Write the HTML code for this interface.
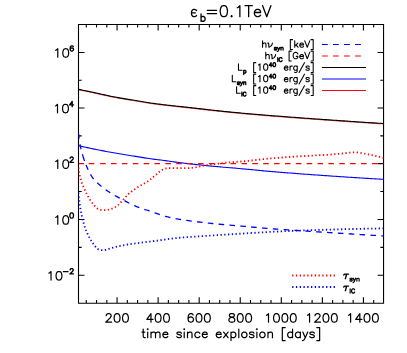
<!DOCTYPE html>
<html><head><meta charset="utf-8"><title>plot</title>
<style>html,body{margin:0;padding:0;background:#fff;font-family:"Liberation Sans",sans-serif;}body{width:407px;height:353px;overflow:hidden}</style></head>
<body>
<svg width="407" height="353" viewBox="0 0 407 353" style="display:block">
<defs><clipPath id="clip"><rect x="78.5" y="24.5" width="305.05" height="278.7"/></clipPath></defs>
<rect x="0" y="0" width="407" height="353" fill="#fff"/>
<path d="M78.5 24.5H383.55V303.2H78.5ZM86.27 303.2v-3.1M86.27 24.5v3.1M96.53 303.2v-3.1M96.53 24.5v3.1M106.8 303.2v-3.1M106.8 24.5v3.1M117.06 303.2v-6M117.06 24.5v6M127.33 303.2v-3.1M127.33 24.5v3.1M137.59 303.2v-3.1M137.59 24.5v3.1M147.86 303.2v-3.1M147.86 24.5v3.1M158.12 303.2v-6M158.12 24.5v6M168.38 303.2v-3.1M168.38 24.5v3.1M178.65 303.2v-3.1M178.65 24.5v3.1M188.92 303.2v-3.1M188.92 24.5v3.1M199.18 303.2v-6M199.18 24.5v6M209.44 303.2v-3.1M209.44 24.5v3.1M219.71 303.2v-3.1M219.71 24.5v3.1M229.97 303.2v-3.1M229.97 24.5v3.1M240.24 303.2v-6M240.24 24.5v6M250.5 303.2v-3.1M250.5 24.5v3.1M260.77 303.2v-3.1M260.77 24.5v3.1M271.03 303.2v-3.1M271.03 24.5v3.1M281.3 303.2v-6M281.3 24.5v6M291.56 303.2v-3.1M291.56 24.5v3.1M301.83 303.2v-3.1M301.83 24.5v3.1M312.1 303.2v-3.1M312.1 24.5v3.1M322.36 303.2v-6M322.36 24.5v6M332.62 303.2v-3.1M332.62 24.5v3.1M342.89 303.2v-3.1M342.89 24.5v3.1M353.16 303.2v-3.1M353.16 24.5v3.1M363.42 303.2v-6M363.42 24.5v6M373.69 303.2v-3.1M373.69 24.5v3.1M78.5 275.29h6M383.55 275.29h-6M78.5 247.38h3.2M383.55 247.38h-3.2M78.5 219.47h6M383.55 219.47h-6M78.5 191.56h3.2M383.55 191.56h-3.2M383.55 163.65h-6M78.5 135.85h3.2M383.55 135.85h-3.2M78.5 108.05h6M383.55 108.05h-6M78.5 80.25h3.2M383.55 80.25h-3.2M78.5 52.45h6M383.55 52.45h-6" fill="none" stroke="#000" stroke-width="1.1" stroke-linecap="butt" stroke-linejoin="miter"/>
<g fill="none" stroke-width="1.12" clip-path="url(#clip)">
<path d="M78.4 89.3L79.87 89.6L81.33 89.9L82.8 90.2L84.26 90.5L85.73 90.81L87.19 91.11L88.66 91.42L90.12 91.73L91.59 92.03L93.05 92.34L94.52 92.65L95.98 92.97L97.44 93.29L98.9 93.61L100.36 93.94L101.82 94.27L103.28 94.6L104.74 94.92L106.21 95.24L107.67 95.56L109.13 95.88L110.59 96.18L112.06 96.48L113.53 96.77L115 97.05L116.47 97.32L117.94 97.58L119.41 97.84L120.89 98.1L122.36 98.35L123.84 98.6L125.32 98.85L126.79 99.09L128.27 99.34L129.75 99.58L131.22 99.82L132.7 100.07L134.18 100.31L135.65 100.56L137.13 100.81L138.6 101.06L140.08 101.31L141.55 101.56L143.03 101.81L144.51 102.05L145.99 102.29L147.46 102.52L148.94 102.75L150.42 102.98L151.9 103.19L153.38 103.4L154.86 103.6L156.35 103.79L157.83 103.98L159.31 104.17L160.8 104.35L162.28 104.53L163.77 104.71L165.26 104.88L166.74 105.05L168.23 105.22L169.72 105.39L171.2 105.55L172.69 105.72L174.18 105.88L175.67 106.04L177.16 106.2L178.65 106.36L180.13 106.52L181.62 106.68L183.11 106.84L184.6 107L186.09 107.17L187.57 107.33L189.06 107.49L190.55 107.66L192.03 107.83L193.52 108L195.01 108.17L196.5 108.34L197.98 108.51L199.47 108.68L200.96 108.85L202.44 109.01L203.93 109.18L205.42 109.35L206.9 109.52L208.39 109.69L209.88 109.86L211.36 110.03L212.85 110.19L214.34 110.36L215.83 110.52L217.31 110.68L218.8 110.84L220.29 111L221.78 111.16L223.27 111.32L224.75 111.47L226.24 111.62L227.73 111.78L229.22 111.92L230.71 112.07L232.2 112.21L233.69 112.36L235.18 112.5L236.67 112.64L238.16 112.78L239.65 112.91L241.14 113.05L242.63 113.19L244.12 113.32L245.61 113.45L247.1 113.59L248.59 113.72L250.08 113.85L251.57 113.97L253.06 114.1L254.55 114.23L256.04 114.36L257.54 114.48L259.03 114.61L260.52 114.73L262.01 114.85L263.5 114.98L264.99 115.1L266.48 115.22L267.98 115.34L269.47 115.46L270.96 115.58L272.45 115.7L273.94 115.82L275.43 115.94L276.92 116.05L278.42 116.17L279.91 116.29L281.4 116.4L282.89 116.52L284.38 116.63L285.88 116.75L287.37 116.86L288.86 116.97L290.35 117.08L291.85 117.2L293.34 117.31L294.83 117.42L296.32 117.53L297.81 117.64L299.31 117.75L300.8 117.86L302.29 117.97L303.78 118.08L305.28 118.19L306.77 118.29L308.26 118.4L309.75 118.51L311.25 118.62L312.74 118.73L314.23 118.83L315.72 118.94L317.22 119.05L318.71 119.15L320.2 119.26L321.69 119.37L323.19 119.47L324.68 119.58L326.17 119.68L327.67 119.79L329.16 119.89L330.65 120L332.14 120.1L333.64 120.21L335.13 120.31L336.62 120.42L338.11 120.52L339.61 120.62L341.1 120.73L342.59 120.83L344.09 120.93L345.58 121.04L347.07 121.14L348.56 121.24L350.06 121.34L351.55 121.44L353.04 121.54L354.54 121.64L356.03 121.74L357.52 121.84L359.02 121.94L360.51 122.04L362 122.14L363.49 122.24L364.99 122.34L366.48 122.44L367.97 122.54L369.47 122.64L370.96 122.73L372.45 122.83L373.95 122.93L375.44 123.03L376.93 123.12L378.43 123.22L379.92 123.31L381.41 123.41L382.91 123.5L384.4 123.6" stroke="#ff0000" opacity="0.7" transform="translate(0,0.4)"/>
<path d="M78.4 89.3L79.87 89.6L81.33 89.9L82.8 90.2L84.26 90.5L85.73 90.81L87.19 91.11L88.66 91.42L90.12 91.73L91.59 92.03L93.05 92.34L94.52 92.65L95.98 92.97L97.44 93.29L98.9 93.61L100.36 93.94L101.82 94.27L103.28 94.6L104.74 94.92L106.21 95.24L107.67 95.56L109.13 95.88L110.59 96.18L112.06 96.48L113.53 96.77L115 97.05L116.47 97.32L117.94 97.58L119.41 97.84L120.89 98.1L122.36 98.35L123.84 98.6L125.32 98.85L126.79 99.09L128.27 99.34L129.75 99.58L131.22 99.82L132.7 100.07L134.18 100.31L135.65 100.56L137.13 100.81L138.6 101.06L140.08 101.31L141.55 101.56L143.03 101.81L144.51 102.05L145.99 102.29L147.46 102.52L148.94 102.75L150.42 102.98L151.9 103.19L153.38 103.4L154.86 103.6L156.35 103.79L157.83 103.98L159.31 104.17L160.8 104.35L162.28 104.53L163.77 104.71L165.26 104.88L166.74 105.05L168.23 105.22L169.72 105.39L171.2 105.55L172.69 105.72L174.18 105.88L175.67 106.04L177.16 106.2L178.65 106.36L180.13 106.52L181.62 106.68L183.11 106.84L184.6 107L186.09 107.17L187.57 107.33L189.06 107.49L190.55 107.66L192.03 107.83L193.52 108L195.01 108.17L196.5 108.34L197.98 108.51L199.47 108.68L200.96 108.85L202.44 109.01L203.93 109.18L205.42 109.35L206.9 109.52L208.39 109.69L209.88 109.86L211.36 110.03L212.85 110.19L214.34 110.36L215.83 110.52L217.31 110.68L218.8 110.84L220.29 111L221.78 111.16L223.27 111.32L224.75 111.47L226.24 111.62L227.73 111.78L229.22 111.92L230.71 112.07L232.2 112.21L233.69 112.36L235.18 112.5L236.67 112.64L238.16 112.78L239.65 112.91L241.14 113.05L242.63 113.19L244.12 113.32L245.61 113.45L247.1 113.59L248.59 113.72L250.08 113.85L251.57 113.97L253.06 114.1L254.55 114.23L256.04 114.36L257.54 114.48L259.03 114.61L260.52 114.73L262.01 114.85L263.5 114.98L264.99 115.1L266.48 115.22L267.98 115.34L269.47 115.46L270.96 115.58L272.45 115.7L273.94 115.82L275.43 115.94L276.92 116.05L278.42 116.17L279.91 116.29L281.4 116.4L282.89 116.52L284.38 116.63L285.88 116.75L287.37 116.86L288.86 116.97L290.35 117.08L291.85 117.2L293.34 117.31L294.83 117.42L296.32 117.53L297.81 117.64L299.31 117.75L300.8 117.86L302.29 117.97L303.78 118.08L305.28 118.19L306.77 118.29L308.26 118.4L309.75 118.51L311.25 118.62L312.74 118.73L314.23 118.83L315.72 118.94L317.22 119.05L318.71 119.15L320.2 119.26L321.69 119.37L323.19 119.47L324.68 119.58L326.17 119.68L327.67 119.79L329.16 119.89L330.65 120L332.14 120.1L333.64 120.21L335.13 120.31L336.62 120.42L338.11 120.52L339.61 120.62L341.1 120.73L342.59 120.83L344.09 120.93L345.58 121.04L347.07 121.14L348.56 121.24L350.06 121.34L351.55 121.44L353.04 121.54L354.54 121.64L356.03 121.74L357.52 121.84L359.02 121.94L360.51 122.04L362 122.14L363.49 122.24L364.99 122.34L366.48 122.44L367.97 122.54L369.47 122.64L370.96 122.73L372.45 122.83L373.95 122.93L375.44 123.03L376.93 123.12L378.43 123.22L379.92 123.31L381.41 123.41L382.91 123.5L384.4 123.6" stroke="#000"/>
<path d="M78.4 145.6L79.86 145.94L81.32 146.28L82.77 146.61L84.23 146.94L85.69 147.26L87.15 147.59L88.62 147.91L90.08 148.22L91.54 148.53L93.01 148.84L94.47 149.14L95.94 149.44L97.4 149.73L98.87 150.02L100.34 150.31L101.81 150.6L103.28 150.88L104.75 151.16L106.22 151.44L107.69 151.71L109.16 151.98L110.63 152.25L112.1 152.52L113.58 152.78L115.05 153.04L116.52 153.29L118 153.54L119.47 153.79L120.95 154.03L122.43 154.28L123.9 154.52L125.38 154.75L126.86 154.99L128.33 155.23L129.81 155.46L131.29 155.7L132.77 155.93L134.24 156.17L135.72 156.41L137.2 156.65L138.67 156.89L140.15 157.13L141.63 157.37L143.1 157.61L144.58 157.84L146.06 158.08L147.54 158.3L149.02 158.53L150.5 158.74L151.98 158.95L153.46 159.16L154.94 159.35L156.43 159.53L157.91 159.71L159.4 159.88L160.89 160.06L162.37 160.25L163.85 160.44L165.34 160.64L166.82 160.85L168.3 161.06L169.78 161.27L171.26 161.48L172.74 161.69L174.22 161.9L175.71 162.11L177.19 162.31L178.67 162.51L180.15 162.7L181.64 162.88L183.12 163.06L184.61 163.24L186.09 163.41L187.58 163.58L189.07 163.76L190.55 163.93L192.04 164.09L193.53 164.26L195.01 164.42L196.5 164.59L197.99 164.75L199.48 164.9L200.96 165.06L202.45 165.22L203.94 165.37L205.43 165.52L206.92 165.67L208.41 165.82L209.9 165.97L211.38 166.11L212.87 166.25L214.36 166.4L215.85 166.53L217.34 166.67L218.83 166.8L220.32 166.93L221.81 167.06L223.3 167.19L224.79 167.31L226.28 167.44L227.78 167.56L229.27 167.69L230.76 167.81L232.25 167.93L233.74 168.06L235.23 168.18L236.72 168.31L238.21 168.44L239.7 168.56L241.19 168.69L242.68 168.83L244.17 168.96L245.66 169.1L247.15 169.24L248.64 169.38L250.13 169.52L251.62 169.67L253.11 169.81L254.6 169.96L256.09 170.1L257.58 170.25L259.06 170.39L260.55 170.53L262.04 170.68L263.53 170.82L265.02 170.96L266.51 171.09L268 171.23L269.49 171.36L270.98 171.48L272.47 171.61L273.96 171.74L275.45 171.86L276.94 171.98L278.44 172.11L279.93 172.23L281.42 172.35L282.91 172.47L284.4 172.59L285.89 172.71L287.38 172.83L288.87 172.94L290.37 173.06L291.86 173.18L293.35 173.29L294.84 173.41L296.33 173.52L297.82 173.63L299.32 173.75L300.81 173.86L302.3 173.97L303.79 174.08L305.28 174.19L306.78 174.3L308.27 174.41L309.76 174.52L311.25 174.63L312.74 174.73L314.24 174.84L315.73 174.95L317.22 175.05L318.71 175.16L320.21 175.26L321.7 175.37L323.19 175.47L324.68 175.58L326.17 175.68L327.67 175.79L329.16 175.89L330.65 175.99L332.14 176.09L333.64 176.2L335.13 176.3L336.62 176.4L338.11 176.5L339.61 176.6L341.1 176.7L342.59 176.8L344.08 176.9L345.58 177L347.07 177.09L348.56 177.19L350.06 177.29L351.55 177.39L353.04 177.48L354.53 177.58L356.03 177.68L357.52 177.77L359.01 177.86L360.51 177.96L362 178.05L363.49 178.15L364.99 178.24L366.48 178.33L367.97 178.42L369.47 178.51L370.96 178.61L372.45 178.7L373.95 178.79L375.44 178.87L376.93 178.96L378.43 179.05L379.92 179.14L381.41 179.23L382.91 179.31L384.4 179.4" stroke="#0000ff"/>
<path d="M78.4 132.8L78.56 134.29L78.73 135.78L78.92 137.27L79.12 138.76L79.34 140.24L79.56 141.72L79.81 143.21L80.08 144.68L80.36 146.15L80.68 147.62L81.02 149.08L81.37 150.54L81.76 151.99L82.16 153.45L82.58 154.89L83.02 156.34L83.47 157.77L83.95 159.19L84.44 160.61L84.94 162.01L85.47 163.4L86.01 164.8L86.58 166.2L87.17 167.6L87.79 168.99L88.43 170.37L89.1 171.74L89.8 173.08L90.53 174.4L91.29 175.7L92.08 176.95L92.89 178.17L93.77 179.34L94.76 180.46L95.83 181.54L96.94 182.58L98.04 183.58L99.17 184.56L100.31 185.53L101.48 186.48L102.66 187.41L103.86 188.33L105.08 189.22L106.3 190.1L107.54 190.95L108.78 191.79L110.02 192.61L111.29 193.41L112.56 194.18L113.86 194.94L115.16 195.69L116.47 196.42L117.8 197.13L119.12 197.84L120.45 198.55L121.78 199.25L123.11 199.94L124.44 200.64L125.77 201.35L127.1 202.05L128.43 202.74L129.77 203.43L131.11 204.1L132.46 204.75L133.82 205.38L135.19 205.97L136.57 206.53L137.97 207.07L139.37 207.59L140.79 208.09L142.21 208.58L143.63 209.06L145.06 209.53L146.49 210L147.92 210.47L149.34 210.94L150.76 211.42L152.18 211.92L153.59 212.43L155.01 212.94L156.42 213.46L157.84 213.97L159.26 214.46L160.68 214.95L162.1 215.4L163.53 215.84L164.97 216.24L166.42 216.6L167.87 216.95L169.33 217.29L170.8 217.61L172.27 217.92L173.74 218.21L175.22 218.5L176.7 218.77L178.18 219.03L179.66 219.28L181.14 219.52L182.62 219.76L184.1 219.98L185.58 220.21L187.06 220.42L188.54 220.64L190.03 220.84L191.52 221.05L193 221.25L194.49 221.44L195.98 221.63L197.47 221.82L198.96 222L200.45 222.18L201.94 222.35L203.43 222.53L204.92 222.7L206.42 222.86L207.91 223.03L209.4 223.19L210.89 223.35L212.38 223.51L213.87 223.66L215.36 223.81L216.86 223.96L218.35 224.11L219.84 224.25L221.33 224.39L222.83 224.52L224.32 224.65L225.82 224.79L227.31 224.92L228.8 225.04L230.3 225.17L231.79 225.3L233.29 225.43L234.78 225.55L236.28 225.68L237.77 225.81L239.27 225.93L240.76 226.06L242.26 226.19L243.75 226.32L245.25 226.45L246.74 226.59L248.23 226.72L249.73 226.86L251.22 226.99L252.71 227.13L254.21 227.26L255.7 227.39L257.2 227.53L258.69 227.66L260.19 227.79L261.68 227.92L263.17 228.05L264.67 228.17L266.16 228.3L267.66 228.42L269.15 228.53L270.65 228.65L272.14 228.76L273.64 228.88L275.13 228.99L276.63 229.09L278.13 229.2L279.62 229.31L281.12 229.41L282.62 229.52L284.11 229.62L285.61 229.72L287.1 229.82L288.6 229.92L290.1 230.02L291.59 230.12L293.09 230.22L294.59 230.32L296.08 230.42L297.58 230.51L299.08 230.61L300.57 230.71L302.07 230.81L303.57 230.91L305.06 231L306.56 231.1L308.06 231.2L309.55 231.3L311.05 231.4L312.55 231.5L314.04 231.59L315.54 231.69L317.04 231.79L318.53 231.89L320.03 231.99L321.53 232.08L323.02 232.18L324.52 232.28L326.02 232.37L327.51 232.47L329.01 232.57L330.51 232.66L332 232.76L333.5 232.86L335 232.95L336.5 233.05L337.99 233.14L339.49 233.24L340.99 233.33L342.48 233.43L343.98 233.52L345.48 233.62L346.97 233.71L348.47 233.81L349.97 233.9L351.46 233.99L352.96 234.09L354.46 234.18L355.95 234.27L357.45 234.37L358.95 234.46L360.45 234.55L361.94 234.64L363.44 234.74L364.94 234.83L366.43 234.92L367.93 235.01L369.43 235.1L370.93 235.19L372.42 235.28L373.92 235.37L375.42 235.46L376.91 235.55L378.41 235.64L379.91 235.73L381.41 235.82L382.9 235.91L384.4 236" stroke="#0000ff" stroke-width="1.3" stroke-dasharray="5.8 5.9 5 5.2 7 4.2 5.3 5.2 5.55 5.32 5.55 5.32 5.55 5.32 5.55 5.32 5.55 5.32 5.55 5.32 5.55 5.32 5.55 5.32 5.55 5.32 5.55 5.32 5.55 5.32 5.55 5.32 5.55 5.32 5.55 5.32 5.55 5.32 5.55 5.32 5.55 5.32 5.55 5.32 5.55 5.32 5.55 5.32 5.55 5.32 5.55 5.32 5.55 5.32 5.55 5.32 5.55 5.32 5.55 5.32 5.55 5.32 5.55 5.32 5.55 5.32 5.55 5.32 5.55 5.32 5.55 5.32 5.55 5.32 5.55 5.32"/>
<path d="M78.5 163.65 L383.55 163.65" stroke="#ff0000" stroke-width="1.3" stroke-dasharray="5.6 4.6 5.6 5.85 5.55 5.32 5.55 5.32 5.55 5.32 5.55 5.32 5.55 5.32 5.55 5.32 5.55 5.32 5.55 5.32 5.55 5.32 5.55 5.32 5.55 5.32 5.55 5.32 5.55 5.32 5.55 5.32 5.55 5.32 5.55 5.32 5.55 5.32 5.55 5.32 5.55 5.32 5.55 5.32 5.55 5.32 5.55 5.32 5.55 5.32 5.55 5.32 5.55 5.32 5.55 5.32 5.55 5.32 5.55 5.32 5.55 5.32 5.55 5.32"/>
<path d="M78.4 167.7L78.58 169.2L78.8 170.7L79.06 172.18L79.35 173.66L79.67 175.13L80.01 176.58L80.38 178.03L80.76 179.47L81.16 180.9L81.63 182.32L82.16 183.73L82.72 185.13L83.31 186.52L83.9 187.89L84.5 189.27L85.12 190.64L85.76 192L86.42 193.35L87.11 194.69L87.82 196.01L88.55 197.31L89.32 198.59L90.12 199.86L90.97 201.11L91.85 202.33L92.76 203.53L93.7 204.69L94.67 205.88L95.69 207.1L96.77 208.16L97.96 208.87L99.3 209.37L100.78 209.79L102.32 210.09L103.83 210.2L105.32 210.13L106.82 209.94L108.31 209.68L109.77 209.39L111.2 208.98L112.62 208.42L114 207.76L115.31 207.03L116.54 206.25L117.72 205.35L118.85 204.34L119.94 203.27L121.01 202.19L122.06 201.12L123.06 200L124.06 198.88L125.04 197.73L126.02 196.59L127.02 195.48L128.08 194.44L129.2 193.45L130.36 192.51L131.56 191.59L132.78 190.7L134 189.82L135.23 188.96L136.47 188.13L137.74 187.32L139.01 186.53L140.29 185.74L141.57 184.96L142.86 184.19L144.17 183.45L145.48 182.71L146.77 181.95L148.03 181.15L149.25 180.29L150.45 179.39L151.62 178.45L152.77 177.49L153.93 176.53L155.09 175.57L156.24 174.6L157.37 173.57L158.5 172.53L159.65 171.54L160.83 170.64L162.08 169.91L163.44 169.28L164.87 168.76L166.33 168.45L167.81 168.24L169.32 168.12L170.81 168.11L172.31 168.14L173.81 168.19L175.31 168.2L176.81 168.2L178.32 168.2L179.82 168.2L181.32 168.2L182.82 168.2L184.32 168.2L185.82 168.2L187.31 168.2L188.81 168.16L190.3 168.03L191.79 167.85L193.28 167.63L194.77 167.39L196.25 167.16L197.72 166.88L199.18 166.54L200.64 166.19L202.11 165.87L203.58 165.6L205.06 165.37L206.55 165.15L208.03 164.95L209.52 164.76L211.01 164.57L212.5 164.37L213.99 164.18L215.47 163.98L216.96 163.79L218.45 163.6L219.94 163.41L221.43 163.22L222.91 163.04L224.4 162.87L225.9 162.71L227.39 162.56L228.88 162.42L230.37 162.29L231.87 162.17L233.36 162.06L234.86 161.95L236.36 161.85L237.85 161.74L239.35 161.63L240.84 161.52L242.34 161.4L243.83 161.27L245.33 161.13L246.82 160.99L248.31 160.83L249.8 160.68L251.29 160.51L252.78 160.35L254.27 160.18L255.76 160.01L257.25 159.84L258.75 159.67L260.24 159.5L261.73 159.33L263.22 159.17L264.71 159.01L266.2 158.86L267.69 158.71L269.19 158.57L270.68 158.44L272.17 158.31L273.67 158.19L275.16 158.07L276.66 157.95L278.15 157.83L279.65 157.71L281.14 157.6L282.64 157.48L284.13 157.37L285.63 157.26L287.13 157.16L288.62 157.05L290.12 156.94L291.61 156.84L293.11 156.74L294.61 156.64L296.1 156.54L297.6 156.44L299.1 156.35L300.6 156.25L302.09 156.16L303.59 156.07L305.09 155.98L306.58 155.89L308.08 155.81L309.58 155.73L311.08 155.65L312.57 155.58L314.07 155.51L315.57 155.44L317.07 155.37L318.57 155.29L320.07 155.22L321.56 155.14L323.06 155.06L324.56 154.98L326.06 154.89L327.55 154.8L329.05 154.7L330.54 154.59L332.04 154.46L333.53 154.33L335.02 154.19L336.52 154.04L338.01 153.9L339.5 153.74L340.99 153.59L342.49 153.44L343.98 153.3L345.47 153.15L346.97 152.99L348.46 152.81L349.96 152.63L351.45 152.47L352.94 152.36L354.43 152.3L355.92 152.32L357.41 152.43L358.9 152.6L360.38 152.82L361.87 153.08L363.35 153.37L364.83 153.67L366.31 153.97L367.78 154.26L369.25 154.53L370.72 154.82L372.19 155.13L373.66 155.44L375.12 155.77L376.58 156.11L378.04 156.47L379.49 156.83L380.95 157.21L382.4 157.6L383.85 158" stroke="#ff0000" stroke-dasharray="1.3 2.47" stroke-width="1.8"/>
<path d="M78.4 192.9L78.54 194.39L78.7 195.88L78.87 197.37L79.05 198.86L79.24 200.34L79.43 201.82L79.64 203.31L79.85 204.79L80.07 206.26L80.3 207.74L80.54 209.22L80.8 210.7L81.07 212.17L81.36 213.64L81.66 215.11L81.97 216.57L82.3 218.02L82.65 219.48L83.01 220.94L83.4 222.39L83.81 223.84L84.24 225.27L84.69 226.69L85.17 228.1L85.69 229.5L86.24 230.89L86.83 232.28L87.45 233.65L88.09 235.01L88.76 236.35L89.45 237.68L90.17 238.98L90.92 240.26L91.73 241.53L92.57 242.77L93.44 244L94.34 245.2L95.25 246.41L96.18 247.69L97.21 248.72L98.46 249.36L99.92 249.87L101.43 250.1L102.93 250.08L104.43 250.03L105.9 249.88L107.33 249.45L108.75 248.91L110.19 248.46L111.63 248.05L113.07 247.64L114.51 247.24L115.96 246.86L117.41 246.5L118.87 246.17L120.33 245.85L121.8 245.54L123.26 245.26L124.74 245L126.21 244.75L127.69 244.51L129.17 244.28L130.65 244.06L132.13 243.85L133.61 243.64L135.1 243.43L136.58 243.23L138.06 243.02L139.54 242.82L141.03 242.63L142.51 242.44L144 242.26L145.48 242.07L146.97 241.89L148.45 241.71L149.94 241.53L151.42 241.35L152.91 241.16L154.39 240.97L155.88 240.78L157.36 240.58L158.85 240.38L160.33 240.17L161.81 239.97L163.3 239.76L164.78 239.55L166.26 239.35L167.75 239.14L169.23 238.94L170.71 238.75L172.2 238.56L173.68 238.38L175.17 238.2L176.65 238.03L178.14 237.87L179.63 237.73L181.12 237.59L182.61 237.46L184.1 237.34L185.59 237.22L187.08 237.11L188.57 237L190.06 236.89L191.56 236.79L193.05 236.69L194.54 236.59L196.04 236.5L197.53 236.41L199.03 236.32L200.52 236.22L202.01 236.13L203.51 236.05L205 235.96L206.5 235.86L207.99 235.77L209.49 235.68L210.98 235.59L212.47 235.49L213.97 235.39L215.46 235.29L216.95 235.2L218.45 235.1L219.94 235L221.43 234.9L222.93 234.81L224.42 234.71L225.91 234.61L227.41 234.52L228.9 234.42L230.39 234.33L231.89 234.23L233.38 234.14L234.87 234.04L236.37 233.95L237.86 233.85L239.35 233.76L240.85 233.67L242.34 233.57L243.84 233.48L245.33 233.39L246.82 233.29L248.32 233.2L249.81 233.1L251.3 233.01L252.8 232.91L254.29 232.82L255.78 232.72L257.28 232.63L258.77 232.54L260.26 232.45L261.76 232.36L263.25 232.27L264.75 232.18L266.24 232.1L267.73 232.02L269.23 231.94L270.72 231.86L272.22 231.79L273.71 231.71L275.21 231.64L276.7 231.57L278.2 231.5L279.69 231.43L281.19 231.36L282.68 231.29L284.18 231.22L285.67 231.15L287.17 231.09L288.66 231.02L290.16 230.96L291.65 230.9L293.15 230.84L294.64 230.78L296.14 230.72L297.63 230.66L299.13 230.6L300.62 230.55L302.12 230.5L303.62 230.45L305.11 230.4L306.61 230.35L308.1 230.3L309.6 230.25L311.09 230.2L312.59 230.15L314.08 230.11L315.58 230.06L317.08 230.01L318.57 229.96L320.07 229.92L321.56 229.87L323.06 229.82L324.55 229.78L326.05 229.73L327.55 229.69L329.04 229.64L330.54 229.6L332.03 229.55L333.53 229.51L335.02 229.47L336.52 229.43L338.02 229.38L339.51 229.34L341.01 229.3L342.5 229.26L344 229.22L345.5 229.18L346.99 229.14L348.49 229.1L349.98 229.07L351.48 229.03L352.98 228.99L354.47 228.96L355.97 228.92L357.46 228.89L358.96 228.85L360.46 228.82L361.95 228.79L363.45 228.76L364.95 228.73L366.44 228.7L367.94 228.67L369.43 228.64L370.93 228.61L372.43 228.58L373.92 228.56L375.42 228.53L376.92 228.51L378.41 228.48L379.91 228.46L381.41 228.44L382.9 228.42L384.4 228.4" stroke="#0000ff" stroke-dasharray="1.3 2.47" stroke-width="1.8"/>
</g>
<path d="M111.6 322.2L105.75 322.2L109.93 318.15L110.76 316.94L111.18 316.12L111.18 315.31L110.76 314.5L110.35 314.1L109.51 313.69L107.84 313.69L107 314.1L106.58 314.5L106.17 315.31L106.17 315.72M114.55 315.31L114.13 317.34L114.13 318.56L114.55 320.58L115.39 321.8L116.64 322.2L117.48 322.2L118.73 321.8L119.57 320.58L119.99 318.56L119.99 317.34L119.57 315.31L118.73 314.1L117.48 313.69L116.64 313.69L115.39 314.1L114.55 315.31M122.94 315.31L122.52 317.34L122.52 318.56L122.94 320.58L123.77 321.8L125.03 322.2L125.86 322.2L127.12 321.8L127.95 320.58L128.37 318.56L128.37 317.34L127.95 315.31L127.12 314.1L125.86 313.69L125.03 313.69L123.77 314.1L122.94 315.31" fill="none" stroke="#000" stroke-width="1.2" stroke-linecap="round" stroke-linejoin="round"/>
<path d="M150.99 322.2L150.99 313.69L146.81 319.37L153.08 319.37M155.61 315.31L155.19 317.34L155.19 318.56L155.61 320.58L156.45 321.8L157.7 322.2L158.54 322.2L159.79 321.8L160.63 320.58L161.05 318.56L161.05 317.34L160.63 315.31L159.79 314.1L158.54 313.69L157.7 313.69L156.45 314.1L155.61 315.31M164 315.31L163.58 317.34L163.58 318.56L164 320.58L164.83 321.8L166.09 322.2L166.92 322.2L168.18 321.8L169.01 320.58L169.43 318.56L169.43 317.34L169.01 315.31L168.18 314.1L166.92 313.69L166.09 313.69L164.83 314.1L164 315.31" fill="none" stroke="#000" stroke-width="1.2" stroke-linecap="round" stroke-linejoin="round"/>
<path d="M193.09 314.91L192.67 314.1L191.42 313.69L190.58 313.69L189.33 314.1L188.49 315.31L188.08 317.34L188.08 319.37L188.49 320.99L189.33 321.8L190.58 322.2L191 322.2L192.26 321.8L193.09 320.99L193.51 319.77L193.51 319.37L193.09 318.15L192.26 317.34L191 316.94L190.58 316.94L189.33 317.34L188.49 318.15L188.08 319.37M196.46 315.31L196.05 317.34L196.05 318.56L196.46 320.58L197.3 321.8L198.55 322.2L199.39 322.2L200.64 321.8L201.48 320.58L201.9 318.56L201.9 317.34L201.48 315.31L200.64 314.1L199.39 313.69L198.55 313.69L197.3 314.1L196.46 315.31M204.85 315.31L204.43 317.34L204.43 318.56L204.85 320.58L205.69 321.8L206.94 322.2L207.78 322.2L209.03 321.8L209.87 320.58L210.28 318.56L210.28 317.34L209.87 315.31L209.03 314.1L207.78 313.69L206.94 313.69L205.69 314.1L204.85 315.31" fill="none" stroke="#000" stroke-width="1.2" stroke-linecap="round" stroke-linejoin="round"/>
<path d="M230.6 316.94L232.27 317.34L233.53 317.75L234.36 318.56L234.78 319.37L234.78 320.58L234.36 321.39L233.94 321.8L232.69 322.2L231.02 322.2L229.76 321.8L229.35 321.39L228.93 320.58L228.93 319.37L229.35 318.56L230.18 317.75L231.44 317.34L233.11 316.94L233.94 316.53L234.36 315.72L234.36 314.91L233.94 314.1L232.69 313.69L231.02 313.69L229.76 314.1L229.35 314.91L229.35 315.72L229.76 316.53L230.6 316.94M237.73 315.31L237.31 317.34L237.31 318.56L237.73 320.58L238.57 321.8L239.82 322.2L240.66 322.2L241.91 321.8L242.75 320.58L243.17 318.56L243.17 317.34L242.75 315.31L241.91 314.1L240.66 313.69L239.82 313.69L238.57 314.1L237.73 315.31M246.12 315.31L245.7 317.34L245.7 318.56L246.12 320.58L246.95 321.8L248.21 322.2L249.04 322.2L250.3 321.8L251.13 320.58L251.55 318.56L251.55 317.34L251.13 315.31L250.3 314.1L249.04 313.69L248.21 313.69L246.95 314.1L246.12 315.31" fill="none" stroke="#000" stroke-width="1.2" stroke-linecap="round" stroke-linejoin="round"/>
<path d="M268.51 322.2L268.51 313.69L267.26 314.91L266.42 315.31M273.97 315.31L273.55 317.34L273.55 318.56L273.97 320.58L274.81 321.8L276.06 322.2L276.9 322.2L278.15 321.8L278.99 320.58L279.41 318.56L279.41 317.34L278.99 315.31L278.15 314.1L276.9 313.69L276.06 313.69L274.81 314.1L273.97 315.31M282.36 315.31L281.94 317.34L281.94 318.56L282.36 320.58L283.19 321.8L284.45 322.2L285.28 322.2L286.54 321.8L287.37 320.58L287.79 318.56L287.79 317.34L287.37 315.31L286.54 314.1L285.28 313.69L284.45 313.69L283.19 314.1L282.36 315.31M290.74 315.31L290.33 317.34L290.33 318.56L290.74 320.58L291.58 321.8L292.83 322.2L293.67 322.2L294.92 321.8L295.76 320.58L296.18 318.56L296.18 317.34L295.76 315.31L294.92 314.1L293.67 313.69L292.83 313.69L291.58 314.1L290.74 315.31" fill="none" stroke="#000" stroke-width="1.2" stroke-linecap="round" stroke-linejoin="round"/>
<path d="M309.57 322.2L309.57 313.69L308.32 314.91L307.48 315.31M320.47 322.2L314.61 322.2L318.79 318.15L319.63 316.94L320.05 316.12L320.05 315.31L319.63 314.5L319.21 314.1L318.38 313.69L316.7 313.69L315.87 314.1L315.45 314.5L315.03 315.31L315.03 315.72M323.42 315.31L323 317.34L323 318.56L323.42 320.58L324.25 321.8L325.51 322.2L326.34 322.2L327.6 321.8L328.43 320.58L328.85 318.56L328.85 317.34L328.43 315.31L327.6 314.1L326.34 313.69L325.51 313.69L324.25 314.1L323.42 315.31M331.8 315.31L331.39 317.34L331.39 318.56L331.8 320.58L332.64 321.8L333.89 322.2L334.73 322.2L335.98 321.8L336.82 320.58L337.24 318.56L337.24 317.34L336.82 315.31L335.98 314.1L334.73 313.69L333.89 313.69L332.64 314.1L331.8 315.31" fill="none" stroke="#000" stroke-width="1.2" stroke-linecap="round" stroke-linejoin="round"/>
<path d="M350.63 322.2L350.63 313.69L349.38 314.91L348.54 315.31M359.85 322.2L359.85 313.69L355.67 319.37L361.94 319.37M364.48 315.31L364.06 317.34L364.06 318.56L364.48 320.58L365.31 321.8L366.57 322.2L367.4 322.2L368.66 321.8L369.49 320.58L369.91 318.56L369.91 317.34L369.49 315.31L368.66 314.1L367.4 313.69L366.57 313.69L365.31 314.1L364.48 315.31M372.86 315.31L372.45 317.34L372.45 318.56L372.86 320.58L373.7 321.8L374.95 322.2L375.79 322.2L377.04 321.8L377.88 320.58L378.3 318.56L378.3 317.34L377.88 315.31L377.04 314.1L375.79 313.69L374.95 313.69L373.7 314.1L372.86 315.31" fill="none" stroke="#000" stroke-width="1.2" stroke-linecap="round" stroke-linejoin="round"/>
<path d="M57.77 57.2L57.77 48.7L56.52 49.91L55.68 50.32M63.23 50.32L62.81 52.34L62.81 53.55L63.23 55.58L64.07 56.8L65.32 57.2L66.16 57.2L67.41 56.8L68.25 55.58L68.66 53.55L68.66 52.34L68.25 50.32L67.41 49.1L66.16 48.7L65.32 48.7L64.07 49.1L63.23 50.32" fill="none" stroke="#000" stroke-width="1.2" stroke-linecap="round" stroke-linejoin="round"/><path d="M73.24 46.58L72.98 46.08L72.2 45.83L71.69 45.83L70.91 46.08L70.39 46.83L70.13 48.09L70.13 49.34L70.39 50.35L70.91 50.85L71.69 51.1L71.95 51.1L72.72 50.85L73.24 50.35L73.5 49.59L73.5 49.34L73.24 48.59L72.72 48.09L71.95 47.84L71.69 47.84L70.91 48.09L70.39 48.59L70.13 49.34" fill="none" stroke="#000" stroke-width="1.34" stroke-linecap="round" stroke-linejoin="round"/>
<path d="M57.51 112.8L57.51 104.3L56.26 105.51L55.42 105.92M62.97 105.92L62.55 107.94L62.55 109.16L62.97 111.18L63.81 112.4L65.06 112.8L65.9 112.8L67.15 112.4L67.99 111.18L68.4 109.16L68.4 107.94L67.99 105.92L67.15 104.7L65.9 104.3L65.06 104.3L63.81 104.7L62.97 105.92" fill="none" stroke="#000" stroke-width="1.2" stroke-linecap="round" stroke-linejoin="round"/><path d="M72.2 106.7L72.2 101.43L69.61 104.94L73.5 104.94" fill="none" stroke="#000" stroke-width="1.34" stroke-linecap="round" stroke-linejoin="round"/>
<path d="M57.77 168.4L57.77 159.9L56.52 161.11L55.68 161.52M63.23 161.52L62.81 163.54L62.81 164.75L63.23 166.78L64.07 168L65.32 168.4L66.16 168.4L67.41 168L68.25 166.78L68.66 164.75L68.66 163.54L68.25 161.52L67.41 160.3L66.16 159.9L65.32 159.9L64.07 160.3L63.23 161.52" fill="none" stroke="#000" stroke-width="1.2" stroke-linecap="round" stroke-linejoin="round"/><path d="M73.5 162.3L69.87 162.3L72.46 159.79L72.98 159.04L73.24 158.53L73.24 158.03L72.98 157.53L72.72 157.28L72.2 157.03L71.17 157.03L70.65 157.28L70.39 157.53L70.13 158.03L70.13 158.28" fill="none" stroke="#000" stroke-width="1.34" stroke-linecap="round" stroke-linejoin="round"/>
<path d="M57.77 224.22L57.77 215.72L56.52 216.93L55.68 217.34M63.23 217.34L62.81 219.36L62.81 220.57L63.23 222.6L64.07 223.81L65.32 224.22L66.16 224.22L67.41 223.81L68.25 222.6L68.66 220.57L68.66 219.36L68.25 217.34L67.41 216.12L66.16 215.72L65.32 215.72L64.07 216.12L63.23 217.34" fill="none" stroke="#000" stroke-width="1.2" stroke-linecap="round" stroke-linejoin="round"/><path d="M70.13 213.85L69.87 215.11L69.87 215.86L70.13 217.12L70.65 217.87L71.43 218.12L71.95 218.12L72.72 217.87L73.24 217.12L73.5 215.86L73.5 215.11L73.24 213.85L72.72 213.1L71.95 212.85L71.43 212.85L70.65 213.1L70.13 213.85" fill="none" stroke="#000" stroke-width="1.34" stroke-linecap="round" stroke-linejoin="round"/>
<path d="M51.02 280.04L51.02 271.54L49.76 272.75L48.93 273.16M56.48 273.16L56.06 275.18L56.06 276.4L56.48 278.42L57.31 279.64L58.57 280.04L59.4 280.04L60.66 279.64L61.49 278.42L61.91 276.4L61.91 275.18L61.49 273.16L60.66 271.94L59.4 271.54L58.57 271.54L57.31 271.94L56.48 273.16" fill="none" stroke="#000" stroke-width="1.2" stroke-linecap="round" stroke-linejoin="round"/><path d="M63.38 271.68L68.04 271.68M73.5 273.94L69.87 273.94L72.46 271.43L72.98 270.68L73.24 270.17L73.24 269.67L72.98 269.17L72.72 268.92L72.2 268.67L71.17 268.67L70.65 268.92L70.39 269.17L70.13 269.67L70.13 269.92" fill="none" stroke="#000" stroke-width="1.34" stroke-linecap="round" stroke-linejoin="round"/>
<path d="M143.19 329.19L143.19 336.08L143.6 337.3L144.41 337.7L145.23 337.7M141.96 332.03L144.82 332.03M147.71 332.03L147.71 337.7M147.71 328.79L147.3 329.19L147.71 329.6L148.12 329.19L147.71 328.79M151.01 332.03L151.01 337.7M155.5 337.7L155.5 333.65L156.73 332.44L157.55 332.03L158.77 332.03L159.59 332.44L160 333.65L160 337.7M151.01 333.65L152.23 332.44L153.05 332.03L154.28 332.03L155.09 332.44L155.5 333.65M167.79 336.49L166.98 337.3L166.16 337.7L164.93 337.7L164.11 337.3L163.3 336.49L162.89 335.27L162.89 334.46L167.79 334.46L167.79 333.65L167.38 332.84L166.98 332.44L166.16 332.03L164.93 332.03L164.11 332.44L163.3 333.25L162.89 334.46M181.33 333.25L180.93 332.44L179.7 332.03L178.47 332.03L177.25 332.44L176.84 333.25L177.25 334.06L178.06 334.46L180.11 334.87L180.93 335.27L181.33 336.08L181.33 336.49L180.93 337.3L179.7 337.7L178.47 337.7L177.25 337.3L176.84 336.49M184.22 332.03L184.22 337.7M184.22 328.79L183.81 329.19L184.22 329.6L184.63 329.19L184.22 328.79M187.52 332.03L187.52 337.7M192.01 337.7L192.01 333.65L191.61 332.44L190.79 332.03L189.56 332.03L188.74 332.44L187.52 333.65M199.81 333.25L198.99 332.44L198.17 332.03L196.95 332.03L196.13 332.44L195.31 333.25L194.9 334.46L194.9 335.27L195.31 336.49L196.13 337.3L196.95 337.7L198.17 337.7L198.99 337.3L199.81 336.49M207.19 336.49L206.37 337.3L205.56 337.7L204.33 337.7L203.51 337.3L202.69 336.49L202.29 335.27L202.29 334.46L207.19 334.46L207.19 333.65L206.78 332.84L206.37 332.44L205.56 332.03L204.33 332.03L203.51 332.44L202.69 333.25L202.29 334.46M221.14 336.49L220.32 337.3L219.51 337.7L218.28 337.7L217.46 337.3L216.65 336.49L216.24 335.27L216.24 334.46L221.14 334.46L221.14 333.65L220.73 332.84L220.32 332.44L219.51 332.03L218.28 332.03L217.46 332.44L216.65 333.25L216.24 334.46M223.62 332.03L228.12 337.7M228.12 332.03L223.62 337.7M231 332.03L231 340.53M231 333.25L231.82 332.44L232.64 332.03L233.87 332.03L234.68 332.44L235.5 333.25L235.91 334.46L235.91 335.27L235.5 336.49L234.68 337.3L233.87 337.7L232.64 337.7L231.82 337.3L231 336.49M238.8 329.19L238.8 337.7M242.09 333.25L241.68 334.46L241.68 335.27L242.09 336.49L242.91 337.3L243.73 337.7L244.95 337.7L245.77 337.3L246.59 336.49L247 335.27L247 334.46L246.59 333.25L245.77 332.44L244.95 332.03L243.73 332.03L242.91 332.44L242.09 333.25M253.97 333.25L253.57 332.44L252.34 332.03L251.11 332.03L249.89 332.44L249.48 333.25L249.89 334.06L250.7 334.46L252.75 334.87L253.57 335.27L253.97 336.08L253.97 336.49L253.57 337.3L252.34 337.7L251.11 337.7L249.89 337.3L249.48 336.49M256.86 332.03L256.86 337.7M256.86 328.79L256.45 329.19L256.86 329.6L257.27 329.19L256.86 328.79M260.16 333.25L259.75 334.46L259.75 335.27L260.16 336.49L260.97 337.3L261.79 337.7L263.02 337.7L263.84 337.3L264.65 336.49L265.06 335.27L265.06 334.46L264.65 333.25L263.84 332.44L263.02 332.03L261.79 332.03L260.97 332.44L260.16 333.25M267.95 332.03L267.95 337.7M272.45 337.7L272.45 333.65L272.04 332.44L271.22 332.03L269.99 332.03L269.18 332.44L267.95 333.65M285.17 327.57L282.31 327.57L282.31 340.53L285.17 340.53M292.55 329.19L292.55 337.7M292.55 333.25L291.74 332.44L290.92 332.03L289.69 332.03L288.88 332.44L288.06 333.25L287.65 334.46L287.65 335.27L288.06 336.49L288.88 337.3L289.69 337.7L290.92 337.7L291.74 337.3L292.55 336.49M300.35 332.03L300.35 337.7M300.35 333.25L299.53 332.44L298.71 332.03L297.49 332.03L296.67 332.44L295.85 333.25L295.44 334.46L295.44 335.27L295.85 336.49L296.67 337.3L297.49 337.7L298.71 337.7L299.53 337.3L300.35 336.49M302.83 332.03L305.28 337.7L307.73 332.03M302.42 340.53L302.83 340.53L303.64 340.13L304.46 339.32L305.28 337.7M314.3 333.25L313.89 332.44L312.66 332.03L311.44 332.03L310.21 332.44L309.8 333.25L310.21 334.06L311.03 334.46L313.07 334.87L313.89 335.27L314.3 336.08L314.3 336.49L313.89 337.3L312.66 337.7L311.44 337.7L310.21 337.3L309.8 336.49M316.78 327.57L319.64 327.57L319.64 340.53L316.78 340.53" fill="none" stroke="#000" stroke-width="1.2" stroke-linecap="round" stroke-linejoin="round"/>
<path d="M196.55 10.66L195.77 9.77L194.49 9.35L193.71 9.35L192.53 9.88L191.81 10.92L191.5 12.24L191.5 13.81L191.81 15.12L192.53 16.18L193.71 16.7L194.49 16.7L195.77 16.28L196.55 15.39M191.5 12.92L195.26 12.92M207.33 10.4L216.6 10.4M207.33 13.55L216.6 13.55M220.75 7.77L220.24 10.4L220.24 11.97L220.75 14.6L221.78 16.18L223.33 16.7L224.36 16.7L225.9 16.18L226.93 14.6L227.45 11.97L227.45 10.4L226.93 7.77L225.9 6.2L224.36 5.67L223.33 5.67L221.78 6.2L220.75 7.77M231.6 15.65L231.09 16.18L231.6 16.7L232.12 16.18L231.6 15.65M239.87 16.7L239.87 5.67L238.33 7.25L237.3 7.77M248.66 5.67L248.66 16.7M245.06 5.67L252.27 5.67M260.54 15.12L259.51 16.18L258.48 16.7L256.93 16.7L255.9 16.18L254.87 15.12L254.36 13.55L254.36 12.5L260.54 12.5L260.54 11.45L260.02 10.4L259.51 9.88L258.48 9.35L256.93 9.35L255.9 9.88L254.87 10.92L254.36 12.5M262.63 5.67L266.75 16.7L270.87 5.67" fill="none" stroke="#000" stroke-width="1.3" stroke-linecap="round" stroke-linejoin="round"/><path d="M201.05 14.02L201.05 21.3M201.05 17.49L201.73 16.8L202.41 16.45L203.43 16.45L204.11 16.8L204.79 17.49L205.13 18.53L205.13 19.22L204.79 20.26L204.11 20.95L203.43 21.3L202.41 21.3L201.73 20.95L201.05 20.26" fill="none" stroke="#000" stroke-width="1.3" stroke-linecap="round" stroke-linejoin="round"/>
<path d="M262.56 40.87L262.56 47.3M265.99 47.3L265.99 44.24L265.68 43.32L265.06 43.02L264.12 43.02L263.5 43.32L262.56 44.24M267.82 43.14L268.6 43.14L268.79 45.16L268.91 47.3M268.91 47.3L270.63 46.38L271.72 45.16L272.22 44.09L272.35 43.02M292.53 39.65L290.35 39.65L290.35 49.44L292.53 49.44M294.73 40.87L294.73 47.3M297.85 43.02L294.73 46.08M295.98 44.85L298.17 47.3M303.49 46.38L302.86 46.99L302.24 47.3L301.3 47.3L300.68 46.99L300.06 46.38L299.74 45.46L299.74 44.85L303.49 44.85L303.49 44.24L303.18 43.63L302.86 43.32L302.24 43.02L301.3 43.02L300.68 43.32L300.06 43.93L299.74 44.85M304.76 40.87L307.25 47.3L309.75 40.87M311.02 39.65L313.2 39.65L313.2 49.44L311.02 49.44" fill="none" stroke="#000" stroke-width="1.08" stroke-linecap="round" stroke-linejoin="round"/><path d="M276.5 48.01L276.3 47.63L275.72 47.44L275.14 47.44L274.56 47.63L274.37 48.01L274.56 48.39L274.95 48.58L275.92 48.77L276.3 48.96L276.5 49.34L276.5 49.53L276.3 49.91L275.72 50.1L275.14 50.1L274.56 49.91L274.37 49.53M277.48 47.44L278.64 50.1L279.8 47.44M277.28 51.43L277.48 51.43L277.86 51.24L278.25 50.86L278.64 50.1M280.97 47.44L280.97 50.1M283.1 50.1L283.1 48.2L282.9 47.63L282.52 47.44L281.94 47.44L281.55 47.63L280.97 48.2" fill="none" stroke="#000" stroke-width="1.3" stroke-linecap="round" stroke-linejoin="round"/>
<path d="M265.77 52.37L265.77 58.8M269.21 58.8L269.21 55.74L268.89 54.82L268.27 54.52L267.33 54.52L266.71 54.82L265.77 55.74M271.03 54.64L271.81 54.64L272 56.66L272.13 58.8M272.13 58.8L273.84 57.88L274.93 56.66L275.43 55.59L275.56 54.52M291.28 51.15L289.1 51.15L289.1 60.94L291.28 60.94M296.29 56.35L297.85 56.35L297.85 57.27L297.54 57.88L296.92 58.49L296.29 58.8L295.05 58.8L294.42 58.49L293.8 57.88L293.49 57.27L293.17 56.35L293.17 54.82L293.49 53.9L293.8 53.29L294.42 52.68L295.05 52.37L296.29 52.37L296.92 52.68L297.54 53.29L297.85 53.9M303.49 57.88L302.86 58.49L302.24 58.8L301.3 58.8L300.68 58.49L300.06 57.88L299.74 56.96L299.74 56.35L303.49 56.35L303.49 55.74L303.18 55.13L302.86 54.82L302.24 54.52L301.3 54.52L300.68 54.82L300.06 55.43L299.74 56.35M304.76 52.37L307.25 58.8L309.75 52.37M311.02 51.15L313.2 51.15L313.2 60.94L311.02 60.94" fill="none" stroke="#000" stroke-width="1.08" stroke-linecap="round" stroke-linejoin="round"/><path d="M277.77 57.62L277.77 61.6M282.04 58.56L281.85 58.19L281.46 57.81L281.08 57.62L280.3 57.62L279.91 57.81L279.53 58.19L279.33 58.56L279.14 59.13L279.14 60.08L279.33 60.65L279.53 61.03L279.91 61.41L280.3 61.6L281.08 61.6L281.46 61.41L281.85 61.03L282.04 60.65" fill="none" stroke="#000" stroke-width="1.3" stroke-linecap="round" stroke-linejoin="round"/>
<path d="M238.47 63.87L238.47 70.3L242.07 70.3M255.76 62.65L253.66 62.65L253.66 72.44L255.76 72.44M259.98 70.3L259.98 63.87L259.08 64.79L258.48 65.1M263.9 65.1L263.6 66.63L263.6 67.55L263.9 69.08L264.5 69.99L265.4 70.3L266 70.3L266.9 69.99L267.5 69.08L267.8 67.55L267.8 66.63L267.5 65.1L266.9 64.18L266 63.87L265.4 63.87L264.5 64.18L263.9 65.1M287.91 69.38L287.31 69.99L286.71 70.3L285.81 70.3L285.21 69.99L284.61 69.38L284.31 68.46L284.31 67.85L287.91 67.85L287.91 67.24L287.61 66.63L287.31 66.32L286.71 66.02L285.81 66.02L285.21 66.32L284.61 66.93L284.31 67.85M290.02 66.02L290.02 70.3M290.02 67.85L290.32 66.93L290.93 66.32L291.52 66.02L292.43 66.02M297.24 66.02L297.24 70.91L296.94 71.83L296.64 72.14L296.04 72.44L295.14 72.44L294.54 72.14M297.24 66.93L296.64 66.32L296.04 66.02L295.14 66.02L294.54 66.32L293.94 66.93L293.64 67.85L293.64 68.46L293.94 69.38L294.54 69.99L295.14 70.3L296.04 70.3L296.64 69.99L297.24 69.38M304.46 62.65L299.06 72.44M309.28 66.93L308.98 66.32L308.08 66.02L307.18 66.02L306.28 66.32L305.98 66.93L306.28 67.55L306.88 67.85L308.38 68.16L308.98 68.46L309.28 69.08L309.28 69.38L308.98 69.99L308.08 70.3L307.18 70.3L306.28 69.99L305.98 69.38M311.1 62.65L313.2 62.65L313.2 72.44L311.1 72.44" fill="none" stroke="#000" stroke-width="1.08" stroke-linecap="round" stroke-linejoin="round"/><path d="M243.73 70.44L243.73 74.43M243.73 71.01L244.1 70.63L244.47 70.44L245.03 70.44L245.4 70.63L245.77 71.01L245.96 71.58L245.96 71.96L245.77 72.53L245.4 72.91L245.03 73.1L244.47 73.1L244.1 72.91L243.73 72.53M271.13 66.7L271.13 62.72L269.27 65.37L272.06 65.37M273.19 63.47L273 64.42L273 64.99L273.19 65.94L273.56 66.51L274.12 66.7L274.49 66.7L275.05 66.51L275.42 65.94L275.61 64.99L275.61 64.42L275.42 63.47L275.05 62.91L274.49 62.72L274.12 62.72L273.56 62.91L273.19 63.47" fill="none" stroke="#000" stroke-width="1.3" stroke-linecap="round" stroke-linejoin="round"/>
<path d="M232.3 75.37L232.3 81.8L235.9 81.8M255.76 74.15L253.66 74.15L253.66 83.94L255.76 83.94M259.98 81.8L259.98 75.37L259.08 76.29L258.48 76.6M263.9 76.6L263.6 78.13L263.6 79.05L263.9 80.58L264.5 81.49L265.4 81.8L266 81.8L266.9 81.49L267.5 80.58L267.8 79.05L267.8 78.13L267.5 76.6L266.9 75.68L266 75.37L265.4 75.37L264.5 75.68L263.9 76.6M287.91 80.88L287.31 81.49L286.71 81.8L285.81 81.8L285.21 81.49L284.61 80.88L284.31 79.96L284.31 79.35L287.91 79.35L287.91 78.74L287.61 78.13L287.31 77.82L286.71 77.52L285.81 77.52L285.21 77.82L284.61 78.43L284.31 79.35M290.02 77.52L290.02 81.8M290.02 79.35L290.32 78.43L290.93 77.82L291.52 77.52L292.43 77.52M297.24 77.52L297.24 82.41L296.94 83.33L296.64 83.64L296.04 83.94L295.14 83.94L294.54 83.64M297.24 78.43L296.64 77.82L296.04 77.52L295.14 77.52L294.54 77.82L293.94 78.43L293.64 79.35L293.64 79.96L293.94 80.88L294.54 81.49L295.14 81.8L296.04 81.8L296.64 81.49L297.24 80.88M304.46 74.15L299.06 83.94M309.28 78.43L308.98 77.82L308.08 77.52L307.18 77.52L306.28 77.82L305.98 78.43L306.28 79.05L306.88 79.35L308.38 79.66L308.98 79.96L309.28 80.58L309.28 80.88L308.98 81.49L308.08 81.8L307.18 81.8L306.28 81.49L305.98 80.88M311.1 74.15L313.2 74.15L313.2 83.94L311.1 83.94" fill="none" stroke="#000" stroke-width="1.08" stroke-linecap="round" stroke-linejoin="round"/><path d="M239.43 82.51L239.24 82.13L238.68 81.94L238.13 81.94L237.57 82.13L237.38 82.51L237.57 82.89L237.94 83.08L238.87 83.27L239.24 83.46L239.43 83.84L239.43 84.03L239.24 84.41L238.68 84.6L238.13 84.6L237.57 84.41L237.38 84.03M240.37 81.94L241.49 84.6L242.6 81.94M240.18 85.93L240.37 85.93L240.74 85.74L241.11 85.36L241.49 84.6M243.73 81.94L243.73 84.6M245.77 84.6L245.77 82.7L245.59 82.13L245.22 81.94L244.66 81.94L244.29 82.13L243.73 82.7M271.13 78.2L271.13 74.22L269.27 76.87L272.06 76.87M273.19 74.97L273 75.92L273 76.49L273.19 77.44L273.56 78.01L274.12 78.2L274.49 78.2L275.05 78.01L275.42 77.44L275.61 76.49L275.61 75.92L275.42 74.97L275.05 74.41L274.49 74.22L274.12 74.22L273.56 74.41L273.19 74.97" fill="none" stroke="#000" stroke-width="1.3" stroke-linecap="round" stroke-linejoin="round"/>
<path d="M236.59 86.87L236.59 93.3L240.19 93.3M255.76 85.65L253.66 85.65L253.66 95.44L255.76 95.44M259.98 93.3L259.98 86.87L259.08 87.79L258.48 88.1M263.9 88.1L263.6 89.63L263.6 90.55L263.9 92.08L264.5 92.99L265.4 93.3L266 93.3L266.9 92.99L267.5 92.08L267.8 90.55L267.8 89.63L267.5 88.1L266.9 87.18L266 86.87L265.4 86.87L264.5 87.18L263.9 88.1M287.91 92.38L287.31 92.99L286.71 93.3L285.81 93.3L285.21 92.99L284.61 92.38L284.31 91.46L284.31 90.85L287.91 90.85L287.91 90.24L287.61 89.63L287.31 89.32L286.71 89.02L285.81 89.02L285.21 89.32L284.61 89.93L284.31 90.85M290.02 89.02L290.02 93.3M290.02 90.85L290.32 89.93L290.93 89.32L291.52 89.02L292.43 89.02M297.24 89.02L297.24 93.91L296.94 94.83L296.64 95.14L296.04 95.44L295.14 95.44L294.54 95.14M297.24 89.93L296.64 89.32L296.04 89.02L295.14 89.02L294.54 89.32L293.94 89.93L293.64 90.85L293.64 91.46L293.94 92.38L294.54 92.99L295.14 93.3L296.04 93.3L296.64 92.99L297.24 92.38M304.46 85.65L299.06 95.44M309.28 89.93L308.98 89.32L308.08 89.02L307.18 89.02L306.28 89.32L305.98 89.93L306.28 90.55L306.88 90.85L308.38 91.16L308.98 91.46L309.28 92.08L309.28 92.38L308.98 92.99L308.08 93.3L307.18 93.3L306.28 92.99L305.98 92.38M311.1 85.65L313.2 85.65L313.2 95.44L311.1 95.44" fill="none" stroke="#000" stroke-width="1.08" stroke-linecap="round" stroke-linejoin="round"/><path d="M241.86 92.12L241.86 96.1M245.96 93.06L245.77 92.69L245.4 92.31L245.03 92.12L244.29 92.12L243.91 92.31L243.54 92.69L243.36 93.06L243.17 93.63L243.17 94.58L243.36 95.15L243.54 95.53L243.91 95.91L244.29 96.1L245.03 96.1L245.4 95.91L245.77 95.53L245.96 95.15M271.13 89.7L271.13 85.72L269.27 88.37L272.06 88.37M273.19 86.47L273 87.42L273 87.99L273.19 88.94L273.56 89.51L274.12 89.7L274.49 89.7L275.05 89.51L275.42 88.94L275.61 87.99L275.61 87.42L275.42 86.47L275.05 85.91L274.49 85.72L274.12 85.72L273.56 85.91L273.19 86.47" fill="none" stroke="#000" stroke-width="1.3" stroke-linecap="round" stroke-linejoin="round"/>
<g fill="none" stroke-width="1.1">
<path d="M321.9 44.5H366" stroke="#0000ff" stroke-dasharray="5.9 5.15"/>
<path d="M321.9 56H366" stroke="#ff0000" stroke-dasharray="5.9 5.15"/>
<path d="M321.9 67.5H366" stroke="#000"/>
<path d="M321.9 79H366" stroke="#0000ff"/>
<path d="M321.9 90.5H366" stroke="#ff0000"/>
<path d="M292.15 275.5H335.5" stroke="#ff0000" stroke-dasharray="1.3 2.47" stroke-width="1.8"/>
<path d="M292.15 287H335.5" stroke="#0000ff" stroke-dasharray="1.3 2.47" stroke-width="1.8"/>
</g>
<path d="M343.7 275.07L344.19 274.41L344.85 274.08L348.61 274.08M346.65 274.08L346.16 276.06L345.67 277.71L345.34 278.7" fill="none" stroke="#000" stroke-width="1.35" stroke-linecap="round" stroke-linejoin="round"/><path d="M352.19 278.85L351.98 278.44L351.37 278.24L350.76 278.24L350.15 278.44L349.95 278.85L350.15 279.26L350.56 279.46L351.58 279.67L351.98 279.87L352.19 280.28L352.19 280.49L351.98 280.9L351.37 281.1L350.76 281.1L350.15 280.9L349.95 280.49M353.21 278.24L354.43 281.1L355.65 278.24M353.01 282.53L353.21 282.53L353.62 282.33L354.03 281.92L354.43 281.1M356.88 278.24L356.88 281.1M359.12 281.1L359.12 279.05L358.91 278.44L358.51 278.24L357.9 278.24L357.49 278.44L356.88 279.05" fill="none" stroke="#000" stroke-width="1.19" stroke-linecap="round" stroke-linejoin="round"/>
<path d="M343.7 287.07L344.19 286.41L344.85 286.08L348.61 286.08M346.65 286.08L346.16 288.06L345.67 289.71L345.34 290.7" fill="none" stroke="#000" stroke-width="1.35" stroke-linecap="round" stroke-linejoin="round"/><path d="M350.15 288.8L350.15 293.1M354.64 289.83L354.43 289.42L354.03 289.01L353.62 288.8L352.81 288.8L352.4 289.01L351.99 289.42L351.79 289.83L351.59 290.44L351.59 291.46L351.79 292.08L351.99 292.49L352.4 292.9L352.81 293.1L353.62 293.1L354.03 292.9L354.43 292.49L354.64 292.08" fill="none" stroke="#000" stroke-width="1.19" stroke-linecap="round" stroke-linejoin="round"/>
</svg>
</body></html>
